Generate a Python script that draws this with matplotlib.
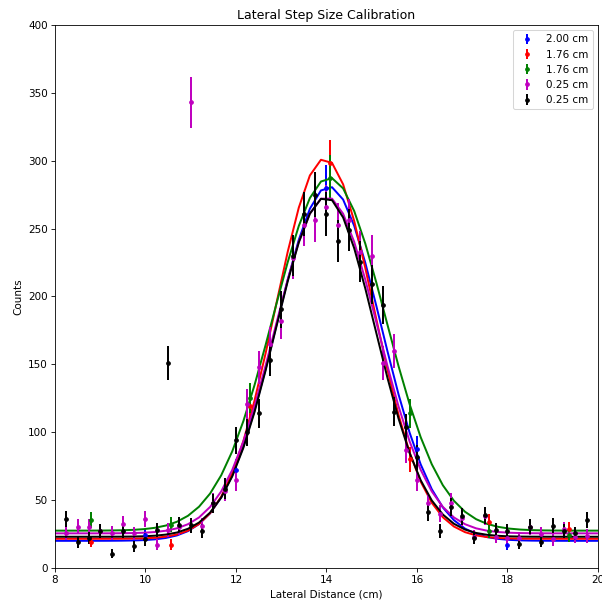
import numpy as np
import matplotlib
matplotlib.use('Agg')
import matplotlib.pyplot as plt

# measured points, one array per scan
x_200 = [10.0, 12.0, 14.0, 16.0, 18.0]
y_200 = [24, 72, 280, 88, 17]

x_176 = [8.8, 10.56, 12.32, 14.08, 15.84, 17.6, 19.36]
y_176a = [19.5, 17, 119, 298, 80, 34, 28.5]
y_176b = [35, 32, 125, 287, 114, 27, 24]

x_025 = [8.25, 8.5, 8.75, 9.0, 9.25, 9.5, 9.75, 10.0, 10.25, 10.5, 10.75, 11.0,
         11.25, 11.5, 11.75, 12.0, 12.25, 12.5, 12.75, 13.0, 13.25, 13.5, 13.75,
         14.0, 14.25, 14.5, 14.75, 15.0, 15.25, 15.5, 15.75, 16.0, 16.25, 16.5,
         16.75, 17.0, 17.25, 17.5, 17.75, 18.0, 18.25, 18.5, 18.75, 19.0, 19.25,
         19.5, 19.75]
y_025a = [26, 30.5, 30.5, 27, 26, 32.5, 25.5, 36, 17, 28, 30, 343,
          31, 48, 57, 65, 121, 148, 165, 182, 228, 253, 256,
          266, 253, 256, 233, 230, 151, 160, 87, 65, 48, 40,
          48, 37, 23, 38, 23, 22, 22, 30, 25, 21, 28.5,
          23, 23.5]
y_025b = [36, 19, 22, 27.5, 10.5, 27, 16, 21, 28, 151, 32, 31.5,
          27, 47.5, 58.5, 94, 100, 114, 153.5, 190.5, 230, 261, 275,
          261, 241, 249, 225.5, 209, 193.5, 115, 103.5, 81.5, 41, 27,
          45, 38, 22, 39, 28, 27, 18, 30.5, 19.5, 31, 27,
          25.5, 35]

labels = ['2.00 cm', '1.76 cm', '1.76 cm', '0.25 cm', '0.25 cm']
colors = ['b', 'r', 'g', 'm', 'k']

# gaussian fit results (amplitude, centre, sigma, offset)
fits = [(261, 14.05, 1.16, 20.0),
        (280, 13.96, 1.09, 21.5),
        (260, 14.06, 1.24, 27.5),
        (248, 14.0, 1.14, 25.5),
        (250, 13.98, 1.11, 23.0)]

def gauss(x, a, mu, s, c):
    return a*np.exp(-(x-mu)**2/(2*s**2)) + c

fig = plt.figure(figsize=(603/75., 605/75.), dpi=75)
ax = fig.add_subplot(111)
fig.subplots_adjust(left=0.0912, right=0.9917, top=0.9587, bottom=0.0612)

xfit = np.linspace(8, 20, 50)
data = [(x_200, y_200), (x_176, y_176a), (x_176, y_176b), (x_025, y_025a), (x_025, y_025b)]
for (xx, yy), lab, col, p in zip(data, labels, colors, fits):
    yy = np.array(yy, dtype=float)
    ax.errorbar(xx, yy, yerr=np.sqrt(yy), fmt='.', color=col, label=lab,
                elinewidth=1.9, markersize=7)
    ax.plot(xfit, gauss(xfit, *p), color=col, lw=1.9)

ax.set_xlim(8, 20)
ax.set_ylim(0, 400)
ax.set_title('Lateral Step Size Calibration')
ax.set_xlabel('Lateral Distance (cm)')
ax.set_ylabel('Counts')
ax.legend(loc='upper right')

fig.savefig('out.png', dpi=75)
